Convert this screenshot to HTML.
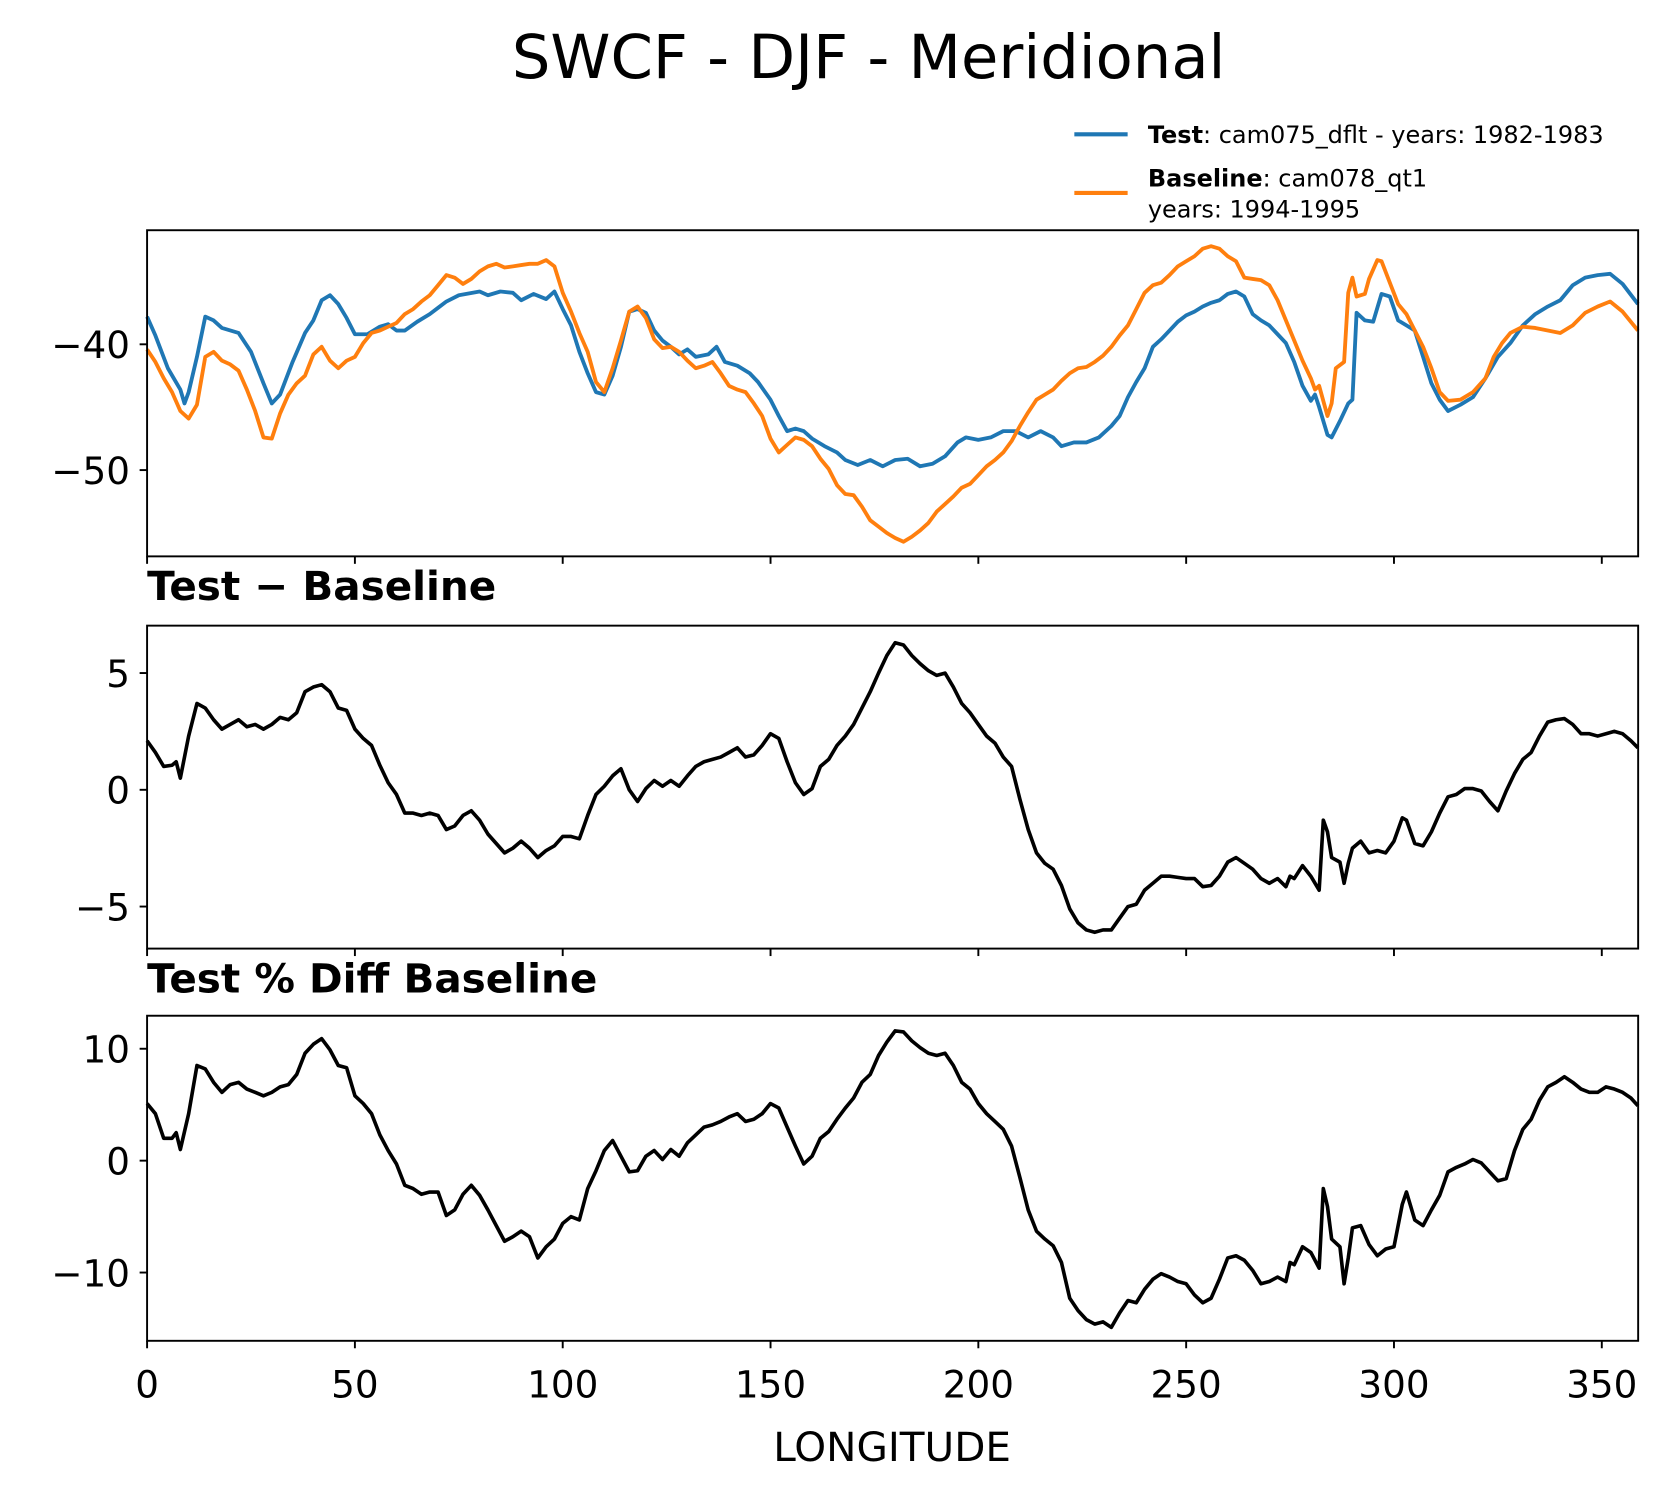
<!DOCTYPE html>
<html><head><meta charset="utf-8">
<style>
html,body{margin:0;padding:0;background:#fff;}
svg{display:block;}
text{font-family:"DejaVu Sans","Liberation Sans",sans-serif;}
</style></head>
<body>
<svg id="fig" xmlns="http://www.w3.org/2000/svg" width="1668" height="1496" viewBox="0 0 1565 1403.6">
<text x="815" y="73" font-size="57" text-anchor="middle">SWCF - DJF - Meridional</text>
<g>
 <line x1="1008" y1="126" x2="1058" y2="126" stroke="#1f77b4" stroke-width="3.8"/>
 <text x="1077" y="134" font-size="22.5"><tspan font-weight="bold">Test</tspan>: cam075_dflt - years: 1982-1983</text>
 <line x1="1008" y1="181" x2="1058" y2="181" stroke="#ff7f0e" stroke-width="3.8"/>
 <text x="1077" y="175" font-size="22.5"><tspan font-weight="bold">Baseline</tspan>: cam078_qt1</text>
 <text x="1077" y="204" font-size="22.5">years: 1994-1995</text>
</g>
<text x="138" y="563" font-size="38" font-weight="bold">Test − Baseline</text>
<text x="138" y="931" font-size="38" font-weight="bold">Test % Diff Baseline</text>
<text x="837" y="1371" font-size="38" text-anchor="middle">LONGITUDE</text>
</svg>
<script>
const xTicks = [0,50,100,150,200,250,300,350];
const testLon = [0,2,5,8,9,10,12,14,16,18,22,25,28,30,32,35,38,40,42,44,46,48,50,53,56,58,60,62,65,68,70,72,75,80,82,85,88,90,93,96,98,100,102,104,106,108,110,112,114,116,118,120,122,124,126,128,130,132,135,137,139,142,145,147,150,152,154,156,158,160,163,166,168,171,174,177,180,183,186,189,192,195,197,200,203,206,209,212,215,218,220,223,226,229,232,234,236,238,240,242,244,246,248,250,252,254,256,258,260,262,264,266,268,270,272,274,276,278,280,281,282,284,285,287,289,290,291,293,295,297,299,301,303,305,307,309,311,313,316,319,322,325,328,331,334,337,340,343,346,349,352,355,358.7];
const testVal = [-37.8,-39.3,-41.9,-43.6,-44.7,-43.8,-41.0,-37.8,-38.1,-38.7,-39.1,-40.6,-43.1,-44.7,-44.0,-41.4,-39.1,-38.1,-36.5,-36.1,-36.8,-37.9,-39.2,-39.2,-38.6,-38.4,-38.9,-38.9,-38.2,-37.6,-37.1,-36.6,-36.1,-35.8,-36.1,-35.8,-35.9,-36.5,-36.0,-36.4,-35.8,-37.2,-38.5,-40.6,-42.3,-43.8,-44.0,-42.5,-40.2,-37.4,-37.2,-37.5,-38.9,-39.7,-40.2,-40.8,-40.4,-41.0,-40.8,-40.2,-41.4,-41.7,-42.3,-43.0,-44.4,-45.7,-46.9,-46.7,-46.9,-47.5,-48.1,-48.6,-49.2,-49.6,-49.2,-49.7,-49.2,-49.1,-49.7,-49.5,-48.9,-47.8,-47.4,-47.6,-47.4,-46.9,-46.9,-47.4,-46.9,-47.4,-48.1,-47.8,-47.8,-47.4,-46.5,-45.7,-44.2,-43.0,-41.9,-40.2,-39.6,-38.9,-38.2,-37.7,-37.4,-37.0,-36.7,-36.5,-36.0,-35.8,-36.2,-37.6,-38.1,-38.5,-39.2,-39.9,-41.4,-43.3,-44.5,-44.0,-45.0,-47.2,-47.4,-46.1,-44.7,-44.4,-37.5,-38.1,-38.2,-36.0,-36.2,-38.1,-38.5,-38.9,-41.0,-43.1,-44.4,-45.3,-44.8,-44.2,-42.7,-41.0,-39.9,-38.5,-37.6,-37.0,-36.5,-35.3,-34.7,-34.5,-34.4,-35.2,-36.8];
const baseLon = [0,2,4,6,8,10,12,14,16,18,20,22,24,26,28,30,32,34,36,38,40,42,44,46,48,50,52,54,56,58,60,62,64,66,68,70,72,74,76,78,80,82,84,86,88,90,92,94,96,98,100,102,104,106,108,110,112,114,116,118,120,122,124,126,128,130,132,134,136,138,140,142,144,146,148,150,152,154,156,158,160,162,164,166,168,170,172,174,176,178,180,182,184,186,188,190,192,194,196,198,200,202,204,206,208,210,212,214,216,218,220,222,224,226,228,230,232,234,236,238,240,242,244,246,248,250,252,254,256,258,260,262,264,266,268,270,272,274,276,278,280,281,282,284,285,286,288,289,290,291,293,294,296,297,299,301,303,305,307,309,311,313,316,319,322,324,326,328,331,334,337,340,343,346,349,352,355,358.7];
const baseVal = [-40.4,-41.4,-42.7,-43.8,-45.3,-45.9,-44.8,-41.0,-40.6,-41.3,-41.6,-42.1,-43.6,-45.3,-47.4,-47.5,-45.5,-44.0,-43.1,-42.5,-40.8,-40.2,-41.3,-41.9,-41.3,-41.0,-39.9,-39.1,-38.9,-38.6,-38.3,-37.6,-37.2,-36.6,-36.1,-35.3,-34.5,-34.7,-35.2,-34.8,-34.2,-33.8,-33.6,-33.9,-33.8,-33.7,-33.6,-33.6,-33.3,-33.8,-35.9,-37.4,-39.1,-40.6,-43.0,-43.8,-41.9,-39.7,-37.4,-37.0,-37.9,-39.6,-40.3,-40.2,-40.6,-41.3,-41.9,-41.7,-41.4,-42.3,-43.3,-43.6,-43.8,-44.7,-45.7,-47.5,-48.6,-48.0,-47.4,-47.6,-48.1,-49.1,-49.9,-51.2,-51.9,-52.0,-52.9,-54.0,-54.5,-55.0,-55.4,-55.7,-55.3,-54.8,-54.2,-53.3,-52.7,-52.1,-51.4,-51.1,-50.4,-49.7,-49.2,-48.6,-47.7,-46.5,-45.4,-44.4,-44.0,-43.6,-42.9,-42.3,-41.9,-41.8,-41.4,-40.9,-40.2,-39.3,-38.5,-37.2,-35.9,-35.3,-35.1,-34.5,-33.8,-33.4,-33.0,-32.4,-32.2,-32.4,-33.0,-33.4,-34.7,-34.8,-34.9,-35.3,-36.5,-38.1,-39.7,-41.3,-42.7,-43.6,-43.3,-45.7,-44.7,-41.9,-41.4,-35.9,-34.7,-36.2,-36.0,-34.8,-33.3,-33.4,-35.1,-36.8,-37.6,-38.9,-40.2,-41.9,-43.8,-44.5,-44.4,-43.8,-42.7,-41.0,-39.9,-39.1,-38.6,-38.7,-38.9,-39.1,-38.5,-37.5,-37.0,-36.6,-37.4,-38.9];
const diffLon = [0,2,4,6,7,8,10,12,14,16,18,20,22,24,26,28,30,32,34,36,38,40,42,44,46,48,50,52,54,56,58,60,62,64,66,68,70,72,74,76,78,80,82,84,86,88,90,92,94,96,98,100,102,104,106,108,110,112,114,116,118,120,122,124,126,128,130,132,134,136,138,140,142,144,146,148,150,152,154,156,158,160,162,164,166,168,170,172,174,176,178,180,182,184,186,188,190,192,194,196,198,200,202,204,206,208,210,212,214,216,218,220,222,224,226,228,230,232,234,236,238,240,242,244,246,248,250,252,254,256,258,260,262,264,266,268,270,272,274,275,276,278,280,282,283,284,285,287,288,289,290,292,294,296,298,300,302,303,305,307,309,311,313,315,317,319,321,323,325,327,329,331,333,335,337,339,341,343,345,347,349,351,353,355,357,358.7];
const diffVal = [2.1,1.6,1.0,1.05,1.2,0.5,2.3,3.7,3.5,3.0,2.6,2.8,3.0,2.7,2.8,2.6,2.8,3.1,3.0,3.3,4.2,4.4,4.5,4.2,3.5,3.4,2.6,2.2,1.9,1.05,0.3,-0.2,-1.0,-1.0,-1.1,-1.0,-1.1,-1.7,-1.55,-1.1,-0.9,-1.3,-1.9,-2.3,-2.7,-2.5,-2.2,-2.5,-2.9,-2.6,-2.4,-2.0,-2.0,-2.1,-1.1,-0.2,0.15,0.6,0.9,0.0,-0.5,0.05,0.4,0.15,0.4,0.15,0.6,1.0,1.2,1.3,1.4,1.6,1.8,1.4,1.5,1.9,2.4,2.2,1.2,0.3,-0.2,0.05,1.0,1.3,1.9,2.3,2.8,3.5,4.2,5.0,5.75,6.3,6.2,5.75,5.4,5.1,4.9,5.0,4.4,3.7,3.3,2.8,2.3,2.0,1.4,1.0,-0.4,-1.7,-2.7,-3.15,-3.4,-4.1,-5.1,-5.7,-6.0,-6.1,-6.0,-6.0,-5.5,-5.0,-4.9,-4.3,-4.0,-3.7,-3.7,-3.75,-3.8,-3.8,-4.15,-4.1,-3.7,-3.1,-2.9,-3.15,-3.4,-3.8,-4.0,-3.8,-4.15,-3.7,-3.8,-3.25,-3.7,-4.3,-1.3,-1.8,-2.9,-3.1,-4.0,-3.15,-2.5,-2.2,-2.7,-2.6,-2.7,-2.2,-1.2,-1.3,-2.3,-2.4,-1.8,-1.0,-0.3,-0.2,0.05,0.05,-0.05,-0.5,-0.9,-0.05,0.7,1.3,1.6,2.3,2.9,3.0,3.05,2.8,2.4,2.4,2.3,2.4,2.5,2.4,2.1,1.8];
const pctLon = diffLon;
const pctVal = [5.1,4.2,2.0,2.0,2.5,1.0,4.2,8.5,8.2,7.0,6.1,6.8,7.0,6.4,6.1,5.8,6.1,6.6,6.8,7.7,9.6,10.4,10.9,9.9,8.5,8.3,5.8,5.1,4.2,2.3,0.9,-0.3,-2.2,-2.5,-3.0,-2.8,-2.8,-4.9,-4.4,-3.0,-2.2,-3.1,-4.4,-5.8,-7.2,-6.8,-6.3,-6.8,-8.7,-7.7,-7.0,-5.6,-5.0,-5.3,-2.5,-0.9,0.9,1.8,0.4,-1.0,-0.9,0.4,0.9,0.1,1.0,0.4,1.6,2.3,3.0,3.2,3.5,3.9,4.2,3.5,3.7,4.2,5.1,4.7,3.0,1.3,-0.3,0.4,2.0,2.6,3.7,4.7,5.6,7.0,7.7,9.4,10.6,11.6,11.5,10.7,10.1,9.6,9.4,9.6,8.5,7.0,6.4,5.1,4.2,3.5,2.8,1.3,-1.5,-4.4,-6.3,-7.0,-7.6,-9.1,-12.3,-13.4,-14.2,-14.6,-14.4,-14.9,-13.6,-12.5,-12.7,-11.5,-10.6,-10.1,-10.4,-10.8,-11.0,-12.0,-12.7,-12.3,-10.6,-8.7,-8.5,-8.9,-9.8,-11.0,-10.8,-10.4,-10.8,-9.1,-9.3,-7.7,-8.2,-9.6,-2.5,-4.1,-7.0,-7.7,-11.0,-8.7,-6.0,-5.8,-7.5,-8.5,-7.9,-7.7,-3.9,-2.8,-5.3,-5.8,-4.4,-3.1,-1.0,-0.6,-0.3,0.1,-0.2,-1.0,-1.8,-1.6,0.9,2.8,3.7,5.4,6.6,7.0,7.5,7.0,6.4,6.1,6.1,6.6,6.4,6.1,5.6,4.9];
const panelTicks1 = [-40,-50];
const panelTicks2 = [5,0,-5];
const panelTicks3 = [10,0,-10];

const NS = 'http://www.w3.org/2000/svg';
const svg = document.getElementById('fig');
const X0 = 138, X1 = 1537, XMAX = 358.75;
function xs(v){ return X0 + v / XMAX * (X1 - X0); }
function mk(tag, attrs){ const e = document.createElementNS(NS, tag); for (const k in attrs) e.setAttribute(k, attrs[k]); return e; }

function panel(name, top, bot, ymin, ymax, yTicks, series, showXLabels){
  const g = mk('g', {});
  
  
  svg.appendChild(g);
  const ys = v => bot - (v - ymin) / (ymax - ymin) * (bot - top);
  series.forEach(s => {
    let d = '';
    s.lon.forEach((l, i) => { d += (i ? 'L' : 'M') + xs(l).toFixed(1) + ',' + ys(s.val[i]).toFixed(1); });
    const p = mk('path', {d: d, fill: 'none', stroke: s.color, 'stroke-width': s.w, 'stroke-linejoin': 'round'});
    
    
    g.appendChild(p);
  });
  const frame = mk('rect', {x: X0, y: top, width: X1 - X0, height: bot - top, fill: 'none', stroke: '#000', 'stroke-width': 1.8});
  
  
  g.appendChild(frame);
  yTicks.forEach(t => {
    const y = ys(t);
    const tk = mk('line', {x1: X0 - 7, x2: X0, y1: y, y2: y, stroke: '#000', 'stroke-width': 1.8});
    
    
    g.appendChild(tk);
    const tx = mk('text', {x: X0 - 16, y: y + 13, 'font-size': 35, 'text-anchor': 'end'});
    tx.textContent = t < 0 ? '\u2212' + Math.abs(t) : String(t);
    
    
    g.appendChild(tx);
  });
  xTicks.forEach(t => {
    const x = xs(t);
    const tk = mk('line', {x1: x, x2: x, y1: bot, y2: bot + 7, stroke: '#000', 'stroke-width': 1.8});
    
    
    g.appendChild(tk);
    if (showXLabels) {
      const tx = mk('text', {x: x, y: bot + 53, 'font-size': 35, 'text-anchor': 'middle'});
      tx.textContent = String(t);
      
      
      g.appendChild(tx);
    }
  });
}
panel('top-panel', 216, 522, -56.86, -30.93, panelTicks1, [
  {name: 'test-series', lon: testLon, val: testVal, color: '#1f77b4', w: 3.6},
  {name: 'baseline-series', lon: baseLon, val: baseVal, color: '#ff7f0e', w: 3.6}
], false);
panel('diff-panel', 587, 890, -6.8, 7.03, panelTicks2, [
  {name: 'diff-series', lon: diffLon, val: diffVal, color: '#000', w: 3.4}
], false);
panel('pct-panel', 953, 1258, -16.1, 12.95, panelTicks3, [
  {name: 'pct-diff-series', lon: pctLon, val: pctVal, color: '#000', w: 3.4}
], true);
</script>
</body></html>
